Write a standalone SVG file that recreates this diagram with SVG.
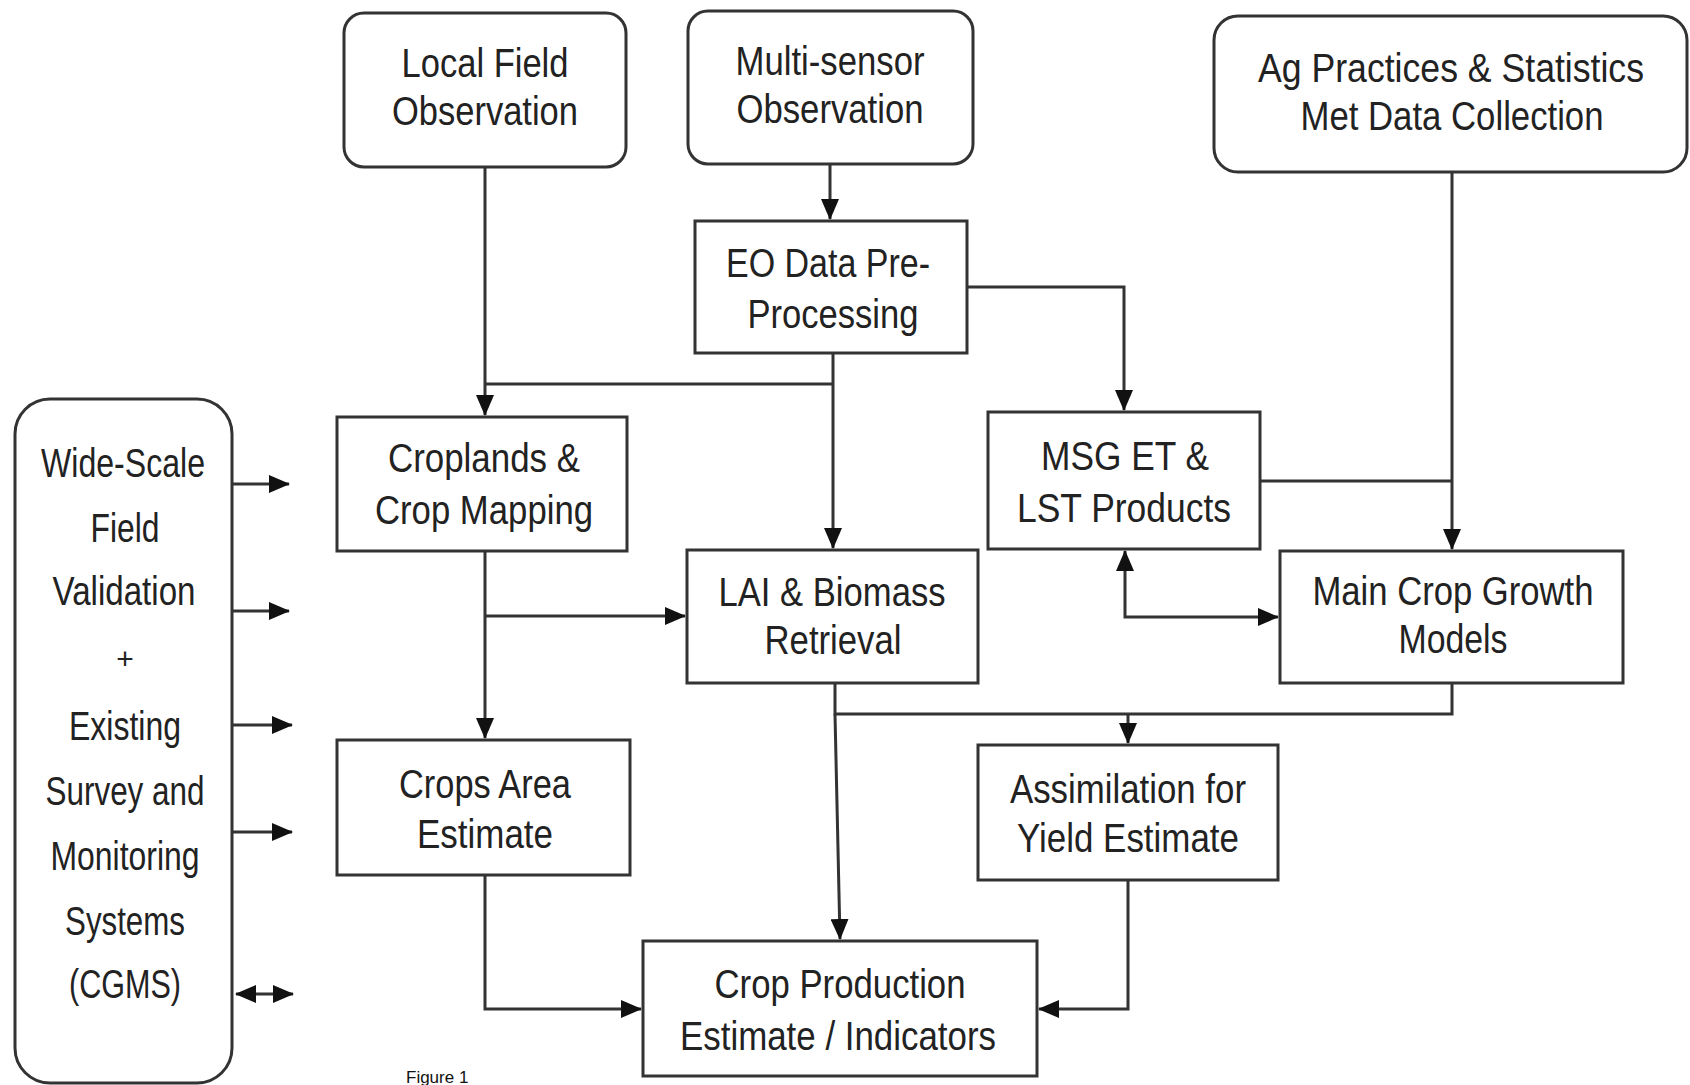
<svg xmlns="http://www.w3.org/2000/svg" width="1690" height="1085" viewBox="0 0 1690 1085">
<style>
.box{fill:#fff;stroke:#333;stroke-width:3}
.t{font-family:"Liberation Sans",Arial,sans-serif;font-size:40px;fill:#222;text-anchor:middle}
.c{fill:none;stroke:#333;stroke-width:3}
.a{marker-end:url(#ah)}
.d{marker-start:url(#ah);marker-end:url(#ah)}
.cap{font-family:"Liberation Sans",Arial,sans-serif;font-size:17px;fill:#111}
</style>
<defs>
<marker id="ah" markerUnits="userSpaceOnUse" markerWidth="21" markerHeight="18" refX="20" refY="9" orient="auto-start-reverse">
<path d="M0,0 L21,9 L0,18 z" fill="#111"/>
</marker>
</defs>
<rect width="1690" height="1085" fill="#fff"/>

<g id="connectors">
<path class="c a" d="M485,167 V415"/>
<path class="c a" d="M833,353 V548"/>
<path class="c" d="M833,384 H485"/>
<path class="c a" d="M830,164 V219"/>
<path class="c a" d="M967,287 H1124 V410"/>
<path class="c a" d="M1452,172 V549"/>
<path class="c" d="M1260,481 H1452"/>
<path class="c d" d="M1125,551 V617 H1278"/>
<path class="c a" d="M485,551 V738"/>
<path class="c a" d="M485,616 H685"/>
<path class="c" d="M835,683 V714 H1452 V683"/>
<path class="c a" d="M1128,714 V743"/>
<path class="c a" d="M835,714 L840,939"/>
<path class="c a" d="M485,875 V1009 H641"/>
<path class="c a" d="M1128,880 V1009 H1039"/>
<path class="c a" d="M233,484 H289"/>
<path class="c a" d="M233,611 H289"/>
<path class="c a" d="M233,725 H292"/>
<path class="c a" d="M233,832 H292"/>
<path class="c d" d="M236,994 H293"/>
</g>

<g id="local-field">
<rect class="box" x="344" y="13" width="282" height="154" rx="20"/>
<text class="t" x="485" y="77" textLength="167" lengthAdjust="spacingAndGlyphs">Local Field</text>
<text class="t" x="485" y="125" textLength="186" lengthAdjust="spacingAndGlyphs">Observation</text>
</g>

<g id="multi-sensor">
<rect class="box" x="688" y="11" width="285" height="153" rx="20"/>
<text class="t" x="830" y="75" textLength="189" lengthAdjust="spacingAndGlyphs">Multi-sensor</text>
<text class="t" x="830" y="123" textLength="187" lengthAdjust="spacingAndGlyphs">Observation</text>
</g>

<g id="ag-practices">
<rect class="box" x="1214" y="16" width="473" height="156" rx="24"/>
<text class="t" x="1451" y="82" textLength="386" lengthAdjust="spacingAndGlyphs">Ag Practices &amp; Statistics</text>
<text class="t" x="1452" y="130" textLength="303" lengthAdjust="spacingAndGlyphs">Met Data Collection</text>
</g>

<g id="eo-data">
<rect class="box" x="695" y="221" width="272" height="132"/>
<text class="t" x="828" y="277" textLength="204" lengthAdjust="spacingAndGlyphs">EO Data Pre-</text>
<text class="t" x="833" y="328" textLength="171" lengthAdjust="spacingAndGlyphs">Processing</text>
</g>

<g id="wide-scale">
<rect class="box" x="15" y="399" width="217" height="684" rx="35"/>
<text class="t" x="123" y="477" textLength="164" lengthAdjust="spacingAndGlyphs">Wide-Scale</text>
<text class="t" x="125" y="542" textLength="69" lengthAdjust="spacingAndGlyphs">Field</text>
<text class="t" x="124" y="605" textLength="143" lengthAdjust="spacingAndGlyphs">Validation</text>
<text class="t" x="125" y="669" style="font-size:30px">+</text>
<text class="t" x="125" y="740" textLength="112" lengthAdjust="spacingAndGlyphs">Existing</text>
<text class="t" x="125" y="805" textLength="159" lengthAdjust="spacingAndGlyphs">Survey and</text>
<text class="t" x="125" y="870" textLength="149" lengthAdjust="spacingAndGlyphs">Monitoring</text>
<text class="t" x="125" y="935" textLength="120" lengthAdjust="spacingAndGlyphs">Systems</text>
<text class="t" x="125" y="998" textLength="112" lengthAdjust="spacingAndGlyphs">(CGMS)</text>
</g>

<g id="croplands">
<rect class="box" x="337" y="417" width="290" height="134"/>
<text class="t" x="484" y="472" textLength="192" lengthAdjust="spacingAndGlyphs">Croplands &amp;</text>
<text class="t" x="484" y="524" textLength="218" lengthAdjust="spacingAndGlyphs">Crop Mapping</text>
</g>

<g id="msg-et">
<rect class="box" x="988" y="412" width="272" height="137"/>
<text class="t" x="1125" y="470" textLength="168" lengthAdjust="spacingAndGlyphs">MSG ET &amp;</text>
<text class="t" x="1124" y="522" textLength="214" lengthAdjust="spacingAndGlyphs">LST Products</text>
</g>

<g id="lai-biomass">
<rect class="box" x="687" y="550" width="291" height="133"/>
<text class="t" x="832" y="606" textLength="227" lengthAdjust="spacingAndGlyphs">LAI &amp; Biomass</text>
<text class="t" x="833" y="654" textLength="137" lengthAdjust="spacingAndGlyphs">Retrieval</text>
</g>

<g id="main-crop">
<rect class="box" x="1280" y="551" width="343" height="132"/>
<text class="t" x="1453" y="605" textLength="281" lengthAdjust="spacingAndGlyphs">Main Crop Growth</text>
<text class="t" x="1453" y="653" textLength="109" lengthAdjust="spacingAndGlyphs">Models</text>
</g>

<g id="crops-area">
<rect class="box" x="337" y="740" width="293" height="135"/>
<text class="t" x="485" y="798" textLength="172" lengthAdjust="spacingAndGlyphs">Crops Area</text>
<text class="t" x="485" y="848" textLength="136" lengthAdjust="spacingAndGlyphs">Estimate</text>
</g>

<g id="assimilation">
<rect class="box" x="978" y="745" width="300" height="135"/>
<text class="t" x="1128" y="803" textLength="236" lengthAdjust="spacingAndGlyphs">Assimilation for</text>
<text class="t" x="1128" y="852" textLength="222" lengthAdjust="spacingAndGlyphs">Yield Estimate</text>
</g>

<g id="crop-production">
<rect class="box" x="643" y="941" width="394" height="135"/>
<text class="t" x="840" y="998" textLength="251" lengthAdjust="spacingAndGlyphs">Crop Production</text>
<text class="t" x="838" y="1050" textLength="316" lengthAdjust="spacingAndGlyphs">Estimate / Indicators</text>
</g>

<text class="cap" x="406" y="1083">Figure 1</text>
</svg>
